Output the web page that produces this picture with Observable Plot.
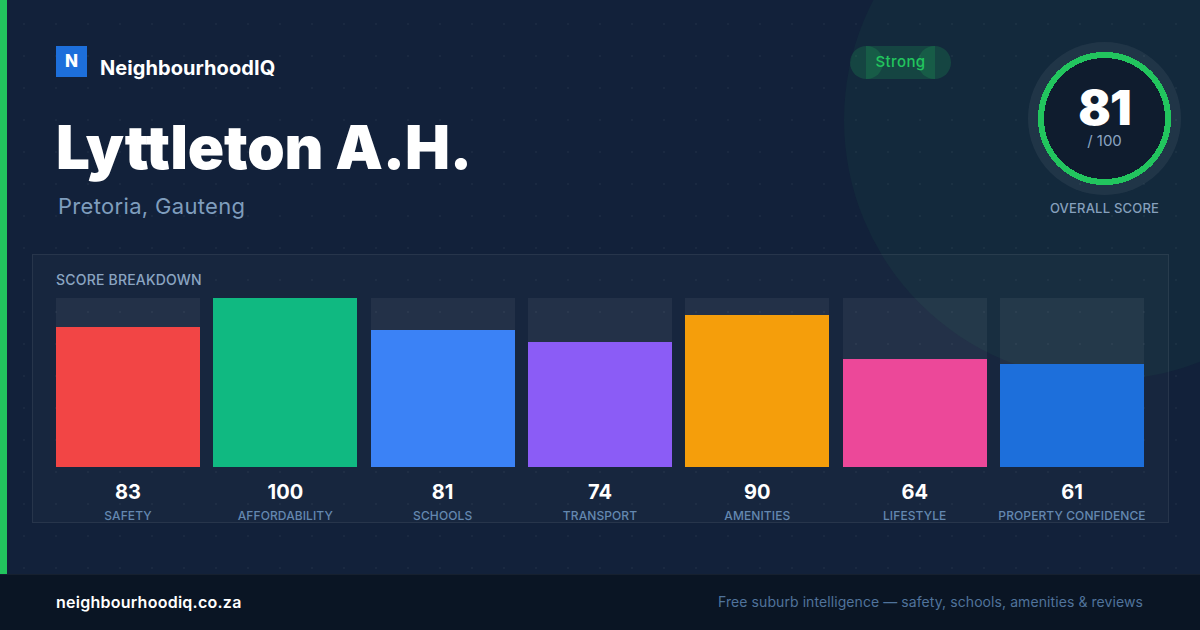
<!DOCTYPE html>
<html><head><meta charset="utf-8">
<script src="https://cdn.jsdelivr.net/npm/d3@7"></script>
<script src="https://cdn.jsdelivr.net/npm/@observablehq/plot@0.6"></script>
<style>
html,body{margin:0;padding:0;width:1200px;height:630px;overflow:hidden;background:#12213a;font-family:Inter,sans-serif}
.a{position:absolute;white-space:nowrap}
#bg{position:absolute;left:0;top:0;width:1200px;height:630px;overflow:hidden;background:#12213a}
#dots{position:absolute;inset:0;background-image:radial-gradient(circle,rgba(255,255,255,.035) 1px,transparent 1px);background-size:32px 32px;background-position:8px 8px}
#glow{position:absolute;left:844px;top:-140px;width:520px;height:520px;border-radius:50%;background:rgba(34,197,94,.05)}
#accent{position:absolute;left:0;top:0;width:7px;height:574px;background:#22c55e}
#panel{position:absolute;left:32px;top:254px;width:1135px;height:267px;border:1px solid rgba(255,255,255,.07);background:rgba(255,255,255,.022)}
#footer{position:absolute;left:0;top:574px;width:1200px;height:56px;background:#0a1524;border-top:1px solid rgba(255,255,255,.05);box-sizing:border-box}
#chart{position:absolute;left:0;top:0}
#chart svg{background:transparent;display:block}
#chart g[aria-label="x-axis tick label"] text{letter-spacing:.1px;font-weight:500}
</style></head>
<body>
<div id="bg"><div id="glow"></div><div id="dots"></div></div>
<div id="accent"></div>
<div id="panel"></div>
<div id="footer"></div>

<div class="a" style="left:56px;top:46px;width:31px;height:31px;background:#1d6fdb;color:#fff;font-weight:800;font-size:17px;line-height:30px;text-align:center">N</div>
<div class="a" style="left:100px;top:55px;font-size:20px;line-height:26px;font-weight:700;color:#fff;letter-spacing:.07px">NeighbourhoodIQ</div>
<div class="a" style="left:56px;top:112px;font-size:60px;line-height:70px;font-weight:900;color:#fff;letter-spacing:-.15px">Lyttleton A.H.</div>
<div class="a" style="left:58px;top:192px;font-size:22px;line-height:28px;font-weight:400;color:#7f9dbd;letter-spacing:.32px">Pretoria, Gauteng</div>

<div class="a" style="left:850px;top:46px;width:33px;height:33px;border-radius:50%;background:rgba(34,197,94,.18)"></div>
<div class="a" style="left:918px;top:46px;width:33px;height:33px;border-radius:50%;background:rgba(34,197,94,.18)"></div>
<div class="a" style="left:866px;top:46px;width:69px;height:33px;background:rgba(34,197,94,.18)"></div>
<div class="a" style="left:850px;top:46px;width:101px;height:33px;line-height:31px;text-align:center;font-size:15px;font-weight:500;color:#22c55e;letter-spacing:.4px">Strong</div>

<div class="a" style="left:1028px;top:42px;width:153px;height:153px;border-radius:50%;background:rgba(255,255,255,.06)"></div>
<div class="a" style="left:1038px;top:52px;width:133px;height:133px;background:radial-gradient(circle closest-side,#0f1c2e 60.5px,#22c55e 60.5px,#22c55e 66.5px,transparent 66.5px)"></div>
<div class="a" style="left:1028px;top:80px;width:153px;text-align:center;font-size:48px;line-height:56px;font-weight:900;color:#fff;letter-spacing:-1px">81</div>
<div class="a" style="left:1028px;top:131px;width:153px;text-align:center;font-size:15px;line-height:20px;color:#8ba5c2">/ 100</div>
<div class="a" style="left:1028px;top:199px;width:153px;text-align:center;font-size:13px;line-height:18px;font-weight:500;color:#86a0bd;letter-spacing:.2px">OVERALL SCORE</div>

<div class="a" style="left:56px;top:271px;font-size:14px;line-height:18px;font-weight:500;color:#8ba5c2;letter-spacing:.2px">SCORE BREAKDOWN</div>

<div id="chart"></div>

<div class="a" style="left:56px;top:592px;font-size:16px;line-height:20px;font-weight:600;color:#fff;letter-spacing:.25px">neighbourhoodiq.co.za</div>
<div class="a" style="right:57px;top:593px;font-size:14px;line-height:18px;color:#50739b;letter-spacing:.08px">Free suburb intelligence — safety, schools, amenities &amp; reviews</div>

<script>
const categories = ["SAFETY","AFFORDABILITY","SCHOOLS","TRANSPORT","AMENITIES","LIFESTYLE","PROPERTY CONFIDENCE"];
const scores = [83,100,81,74,90,64,61];
const barColors = ["#f24545","#10b981","#3b82f6","#8b5cf6","#f59e0b","#ec4899","#1d6fdb"];
const scoreMax = 100;

const rows = categories.map((category,i)=>({category,score:scores[i],color:barColors[i]}));
const chart = Plot.plot({
  width:1200,height:630,
  marginLeft:56,marginRight:56,marginTop:298,marginBottom:163,
  style:{background:"transparent",fontFamily:"Inter, sans-serif"},
  x:{domain:categories,paddingInner:0.0847,paddingOuter:0,round:false,label:null},
  y:{domain:[0,scoreMax],axis:null,label:null},
  marks:[
    Plot.barY(rows,{x:"category",y:()=>scoreMax,fill:"#fff",fillOpacity:0.055,shapeRendering:"crispEdges"}),
    Plot.barY(rows,{x:"category",y:"score",fill:d=>d.color,shapeRendering:"crispEdges"}),
    Plot.text(rows,{x:"category",text:d=>String(d.score),frameAnchor:"bottom",lineAnchor:"middle",dx:-0.5,dy:25,fontSize:20,fontWeight:700,fill:"#fff"}),
    Plot.axisX({tickSize:0,tickPadding:44,dx:-0.5,fontSize:12,fill:"#6488b0",label:null})
  ]
});
document.getElementById("chart").appendChild(chart);
</script>
</body></html>
